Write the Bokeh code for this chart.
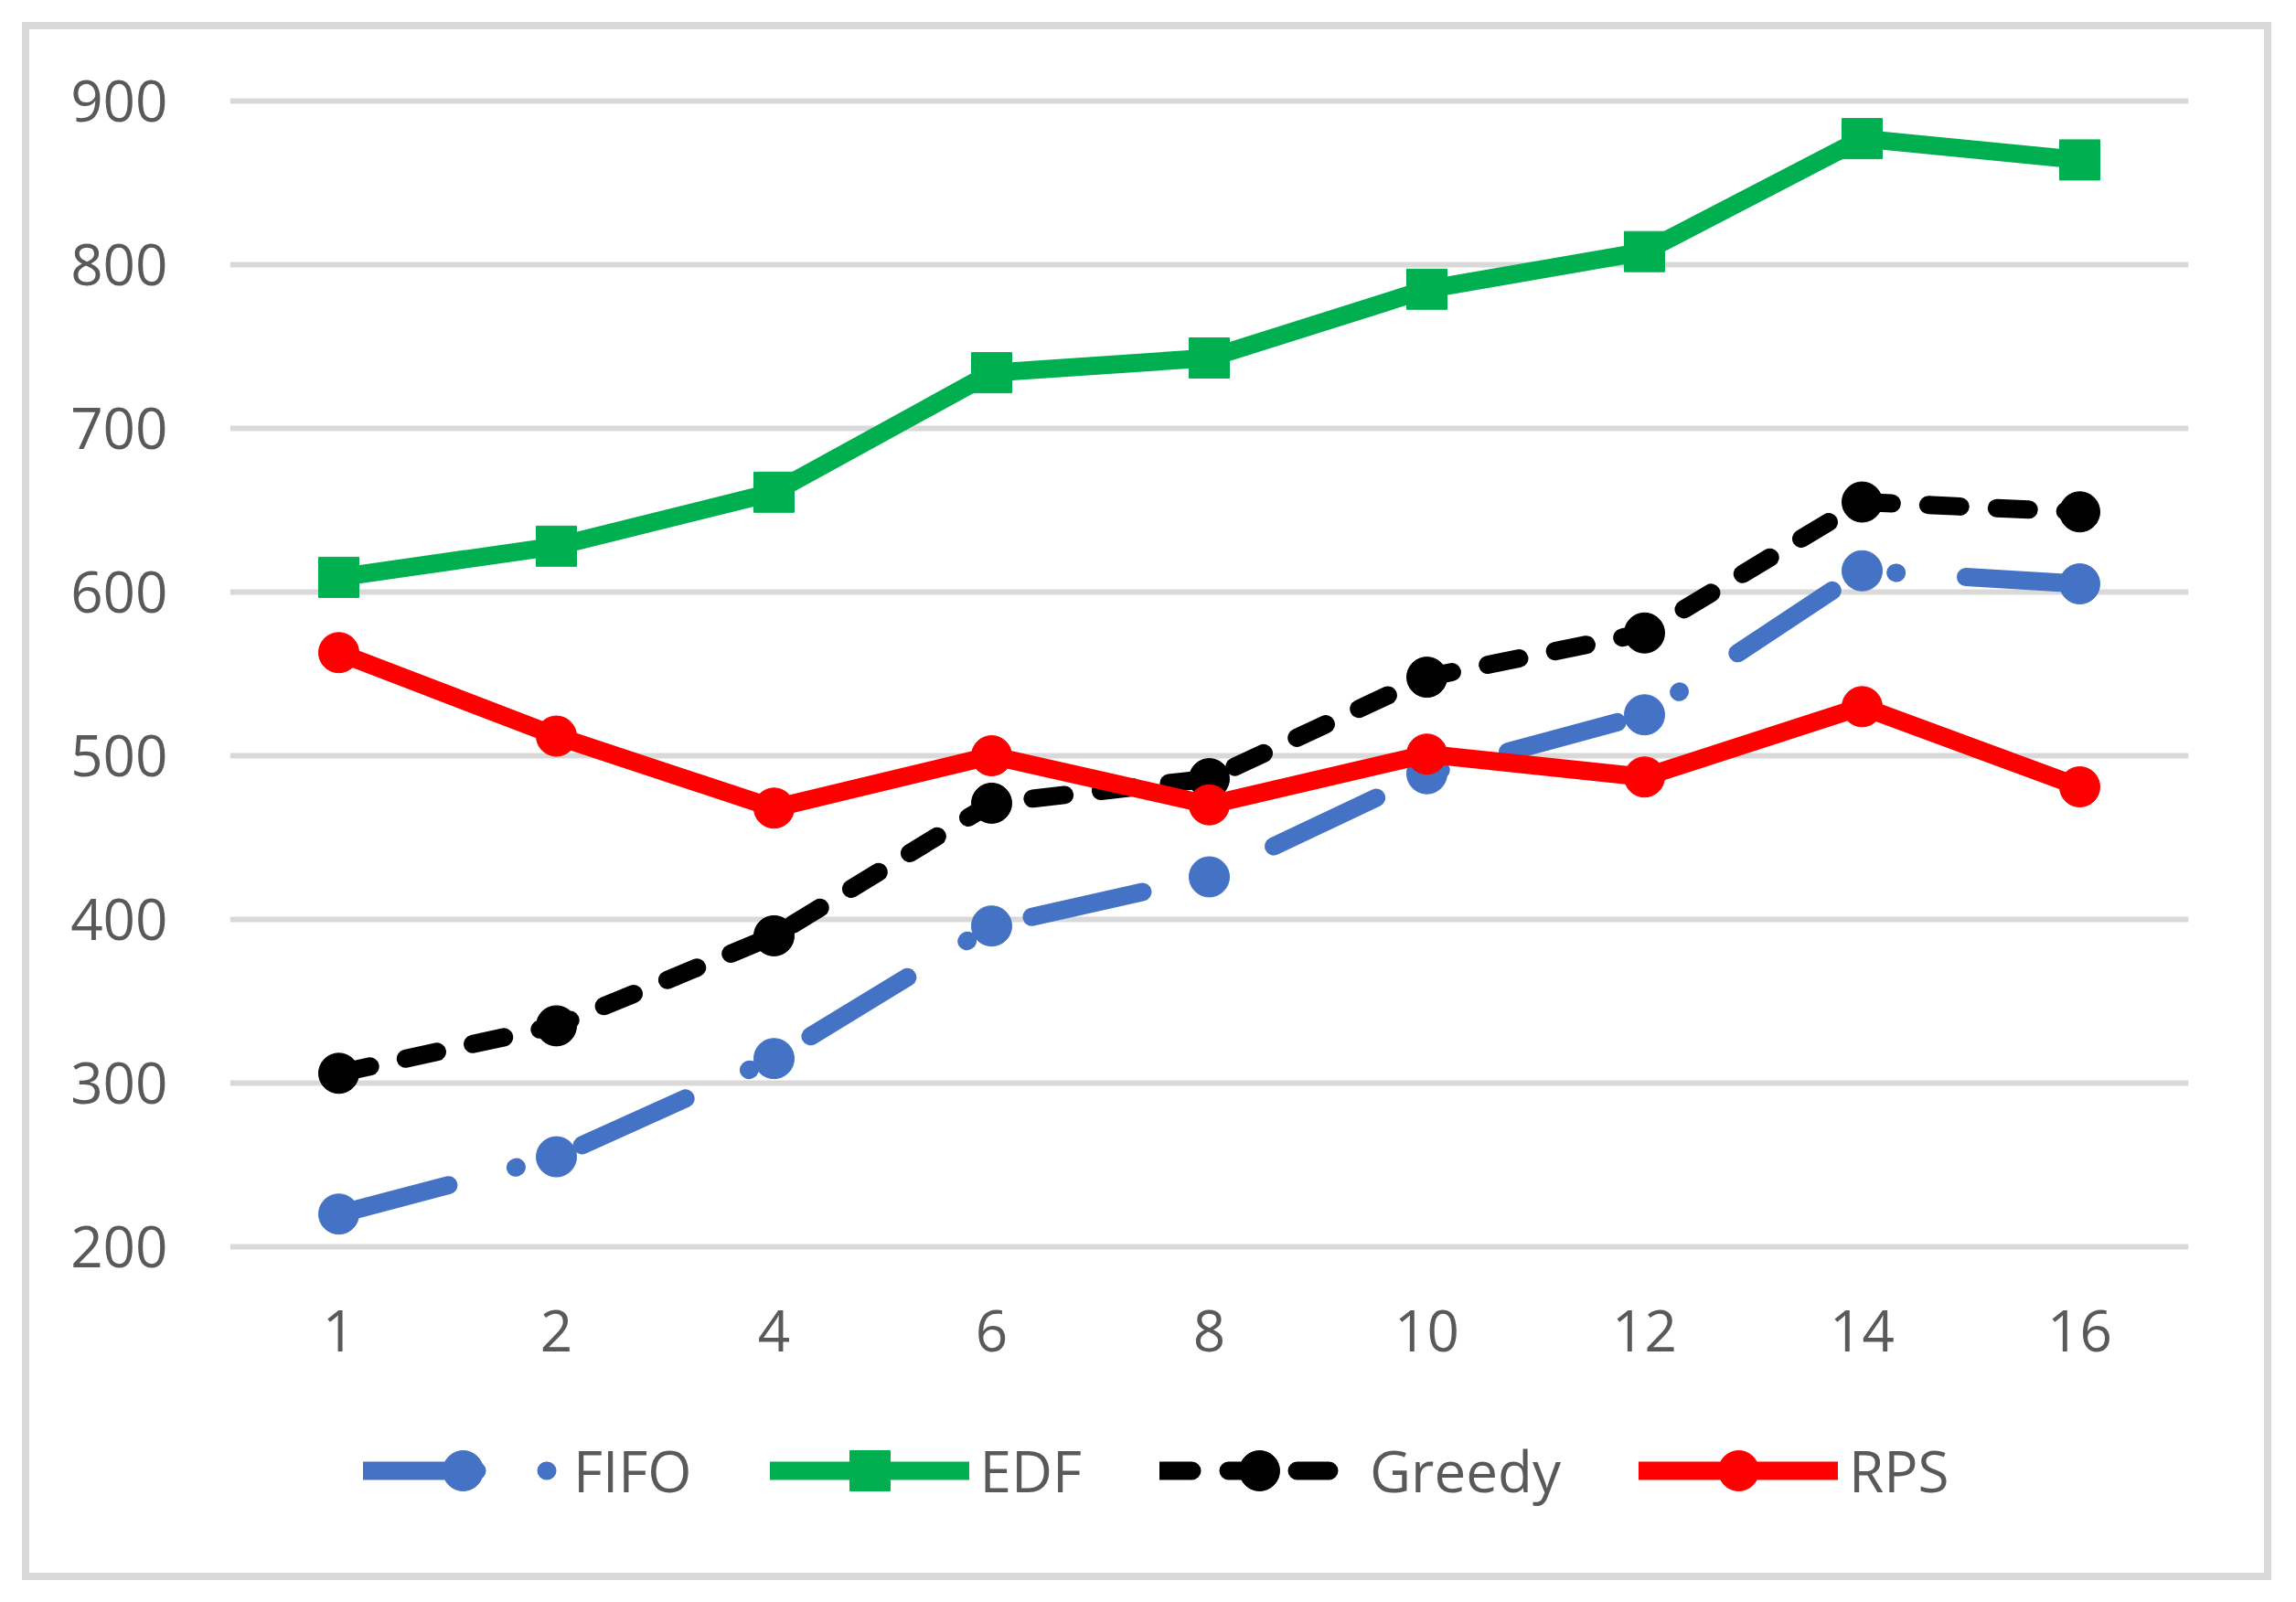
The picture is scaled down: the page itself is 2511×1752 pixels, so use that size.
from bokeh.plotting import figure
from bokeh.layouts import column
from bokeh.models import (FactorRange, Range1d, FixedTicker, Legend, LegendItem,
                          ColumnDataSource)
from bokeh.embed import file_html
from bokeh.resources import INLINE

categories = ["1", "2", "4", "6", "8", "10", "12", "14", "16"]
fifo = [220, 255, 315, 396, 426, 489, 525, 613, 605]
edf = [609, 628, 661, 734, 743, 785, 808, 877, 864]
greedy = [306, 335, 390, 471, 486, 548, 575, 655, 649]
rps = [563, 512, 468, 500, 470, 501, 487, 530, 481]
y_ticks = [200, 300, 400, 500, 600, 700, 800, 900]

FONT = "Open Sans"
TXT = "#595959"
W = 2508
H_MAIN = 1530
H_LEG = 222

src = ColumnDataSource(dict(x=categories, fifo=fifo, edf=edf, greedy=greedy, rps=rps))

p = figure(width=W, height=H_MAIN,
           x_range=FactorRange(factors=categories, range_padding=0),
           y_range=Range1d(195, 905),
           output_backend="svg", toolbar_location=None,
           min_border_left=251, min_border_right=115,
           min_border_top=101, min_border_bottom=H_MAIN - 1372)

p.outline_line_color = None
p.background_fill_alpha = 0
p.border_fill_alpha = 0
p.xgrid.visible = False
p.ygrid.grid_line_color = "#D9D9D9"
p.ygrid.grid_line_width = 6
p.yaxis.ticker = FixedTicker(ticks=y_ticks)

for ax in (p.xaxis, p.yaxis):
    ax.axis_line_color = None
    ax.major_tick_line_color = None
    ax.minor_tick_line_color = None
    ax.major_tick_out = 0
    ax.major_tick_in = 0
    ax.major_label_text_font = FONT
    ax.major_label_text_font_size = "62px"
    ax.major_label_text_color = TXT
p.yaxis.major_label_standoff = 68
p.xaxis.major_label_standoff = 60

# legend-only figure below the chart (its ranges keep the series out of view)
pl = figure(width=W, height=H_LEG,
            x_range=p.x_range, y_range=Range1d(0, 1),
            x_axis_type=None, y_axis_type=None,
            output_backend="svg", toolbar_location=None,
            min_border_left=0, min_border_right=0,
            min_border_top=0, min_border_bottom=0)
pl.outline_line_color = None
pl.background_fill_alpha = 0
pl.border_fill_alpha = 0
pl.grid.visible = False

series = [
    ("FIFO", "fifo", "#4472C4", "circle", "124 76 1 76"),
    ("EDF", "edf", "#00B050", "square", "solid"),
    ("Greedy", "greedy", "#000000", "circle", "35 40"),
    ("RPS", "rps", "#FF0000", "circle", "solid"),
]

items = []
for label, col, color, marker, dash in series:
    for fig in (p, pl):
        lr = fig.line(x="x", y=col, source=src, line_color=color, line_width=20,
                      line_dash=dash, line_cap="round", line_join="round")
        sr = fig.scatter(x="x", y=col, source=src, marker=marker, size=44,
                         fill_color=color, line_color=color, line_width=1)
    items.append(LegendItem(label=label, renderers=[lr, sr]))

legend = Legend(items=items, orientation="horizontal", location=(146, 89),
                glyph_width=218, glyph_height=110, label_standoff=12, spacing=85,
                padding=0, margin=0, border_line_color=None,
                background_fill_alpha=0,
                label_text_font=FONT, label_text_font_size="62px",
                label_text_color=TXT)
pl.add_layout(legend)

layout = column(p, pl, spacing=0)
layout.styles = {"background-color": "#FFFFFF",
                 "box-shadow": "inset 0 0 0 24px #FFFFFF, inset 0 0 0 32px #D9D9D9"}

open("out.html", "w").write(file_html(layout, INLINE))
